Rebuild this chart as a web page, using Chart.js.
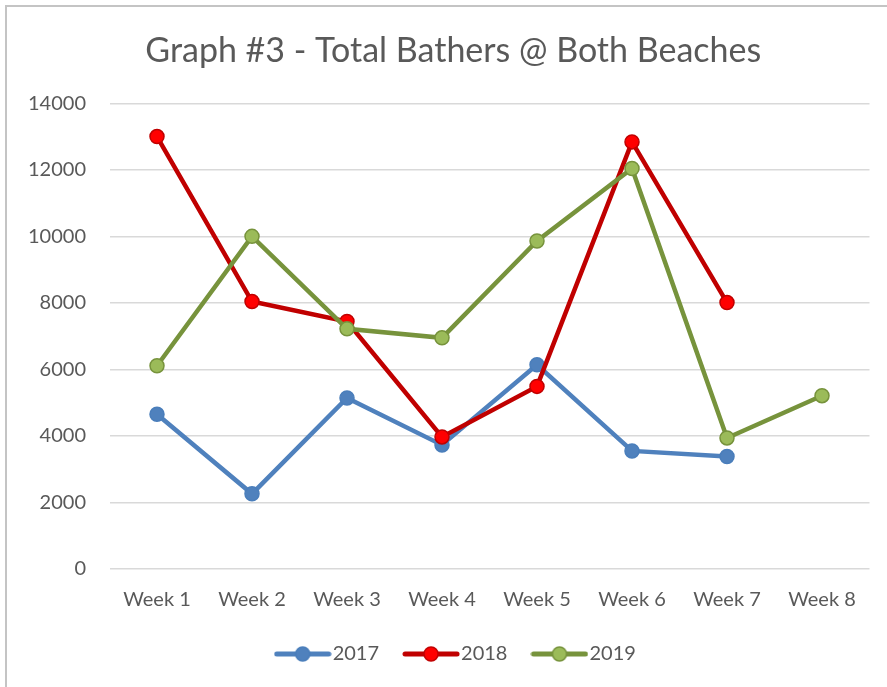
<!DOCTYPE html>
<html>
<head>
<meta charset="utf-8">
<script src="https://cdn.jsdelivr.net/npm/chart.js@4/dist/chart.umd.min.js"></script>
<style>
  html, body { margin: 0; padding: 0; background: #fff; overflow: hidden; }
  #frame { position: absolute; left: 5px; top: 5px; width: 1000px; height: 1000px;
           border-top: 2px solid #c4c4c4; border-left: 2px solid #c4c4c4; }
  #chart { position: absolute; left: 0; top: 0; }
</style>
</head>
<body>
<div id="frame"></div>
<canvas id="chart" width="887" height="687"></canvas>
<script>
// chart data
const weeks = ["Week 1", "Week 2", "Week 3", "Week 4", "Week 5", "Week 6", "Week 7", "Week 8"];
const years = ["2017", "2018", "2019"];
const bathers2017 = [4650, 2260, 5140, 3730, 6140, 3550, 3380, null];
const bathers2018 = [13000, 8040, 7440, 3970, 5490, 12840, 8010, null];
const bathers2019 = [6110, 10000, 7220, 6950, 9860, 12040, 3940, 5210];
const yTicks = [0, 2000, 4000, 6000, 8000, 10000, 12000, 14000];

const FONT = "Lato, 'Open Sans', sans-serif";
const GREY = "#595959";

// series look: line colour, marker fill, marker edge
const styles = [
  { line: "#4F81BD", fill: "#4F81BD", edge: "#4A7EBB" },
  { line: "#C00000", fill: "#FF0000", edge: "#C00000" },
  { line: "#77933C", fill: "#9BBB59", edge: "#77933C" },
];

// little line+marker picture for the legend
function legendMarker(s) {
  const c = document.createElement("canvas");
  c.width = 58;
  c.height = 18;
  const g = c.getContext("2d");
  g.strokeStyle = s.line;
  g.lineWidth = 5;
  g.lineCap = "round";
  g.beginPath();
  g.moveTo(3, 9);
  g.lineTo(55, 9);
  g.stroke();
  g.beginPath();
  g.arc(29, 9, 7, 0, Math.PI * 2);
  g.fillStyle = s.fill;
  g.fill();
  g.lineWidth = 1.5;
  g.strokeStyle = s.edge;
  g.stroke();
  return c;
}
const markers = styles.map(legendMarker);

// title and legend sit a bit right of the canvas centre in the original
const shiftBlocks = {
  id: "shiftBlocks",
  afterLayout(chart) {
    if (chart.titleBlock) chart.titleBlock.left += 37;
    if (chart.legend) chart.legend.left += 49;
  },
};

const series = [bathers2017, bathers2018, bathers2019];
const datasets = series.map((data, i) => ({
  label: years[i],
  data: data,
  borderColor: styles[i].line,
  backgroundColor: styles[i].fill,
  borderWidth: 4.5,
  pointRadius: 7,
  pointBorderWidth: 1.5,
  pointBackgroundColor: styles[i].fill,
  pointBorderColor: styles[i].edge,
  tension: 0,
  order: 3 - i, // later years on top
}));

new Chart(document.getElementById("chart"), {
  type: "line",
  data: { labels: weeks, datasets: datasets },
  plugins: [shiftBlocks],
  options: {
    responsive: false,
    animation: false,
    layout: { padding: { left: 0, right: 17.5, top: 0, bottom: 13 } },
    plugins: {
      title: {
        display: true,
        text: "Graph #3 - Total Bathers @ Both Beaches",
        color: GREY,
        font: { family: FONT, size: 34, weight: "normal" },
        padding: { top: 31, bottom: 31.5 },
      },
      legend: {
        position: "bottom",
        labels: {
          usePointStyle: true,
          pointStyleWidth: 40,
          padding: 32,
          color: GREY,
          font: { family: FONT, size: 20 },
          generateLabels: (chart) =>
            chart.data.datasets.map((ds, i) => ({
              text: ds.label,
              pointStyle: markers[i],
              datasetIndex: i,
              fontColor: GREY,
              fillStyle: "transparent",
              strokeStyle: "transparent",
              lineWidth: 0,
              hidden: false,
            })),
        },
      },
      tooltip: { enabled: false },
    },
    scales: {
      x: {
        offset: true,
        grid: { display: false, drawTicks: false },
        border: { display: false },
        ticks: { color: GREY, font: { family: FONT, size: 20 }, padding: 18.5, maxRotation: 0 },
        afterFit: (scale) => { scale.height = 43; },
      },
      y: {
        min: 0,
        max: 14000,
        grid: { color: "#d9d9d9", lineWidth: 1.5, drawTicks: false },
        border: { display: false },
        afterBuildTicks: (scale) => { scale.ticks = yTicks.map((v) => ({ value: v })); },
        ticks: {
          color: GREY,
          font: { family: FONT, size: 20 },
          padding: 23.5,
          callback: (v) => String(v),
        },
        afterFit: (scale) => { scale.width = 109.5; },
      },
    },
  },
});
</script>
</body>
</html>
